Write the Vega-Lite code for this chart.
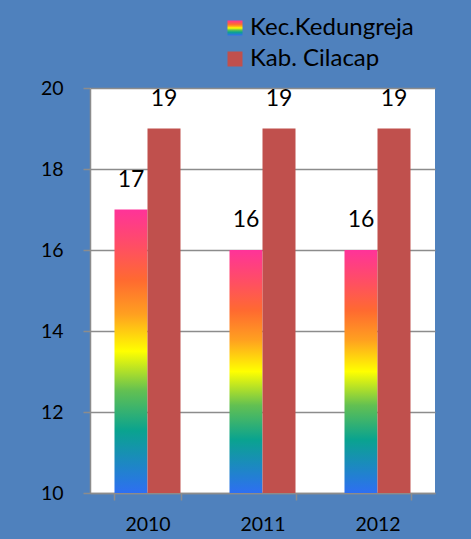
{
  "$schema": "https://vega.github.io/schema/vega-lite/v6.json",
  "width": 345,
  "height": 405,
  "autosize": {"type": "none"},
  "padding": {"left": 90, "top": 88, "right": 36, "bottom": 46},
  "background": "#4f81bd",
  "view": {"fill": "white", "stroke": null},
  "config": {
    "font": "Lato",
    "axis": {
      "labelFont": "Lato",
      "labelFontSize": 19.5,
      "labelColor": "black",
      "domainColor": "#8c8c8c",
      "domainWidth": 1.5,
      "tickColor": "#8c8c8c",
      "tickWidth": 1.5,
      "tickSize": 7,
      "gridColor": "#8c8c8c",
      "gridWidth": 1.5,
      "gridOpacity": 1,
      "title": null
    },
    "legend": {
      "title": null,
      "orient": "none",
      "symbolType": "square",
      "symbolSize": 225,
      "symbolStrokeWidth": 0,
      "labelFont": "Lato",
      "labelFontSize": 24,
      "labelColor": "black",
      "labelOffset": 3,
      "labelLimit": 300,
      "padding": 0
    }
  },
  "data": {
    "values": [
      {"year": "2010", "series": "Kec.Kedungreja", "value": 17},
      {"year": "2010", "series": "Kab. Cilacap", "value": 19},
      {"year": "2011", "series": "Kec.Kedungreja", "value": 16},
      {"year": "2011", "series": "Kab. Cilacap", "value": 19},
      {"year": "2012", "series": "Kec.Kedungreja", "value": 16},
      {"year": "2012", "series": "Kab. Cilacap", "value": 19}
    ]
  },
  "encoding": {
    "x": {
      "field": "year",
      "type": "nominal",
      "scale": {"paddingInner": 0.426, "paddingOuter": 0.213},
      "axis": {"labelAngle": 0, "tickBand": "extent", "labelPadding": 15, "grid": false}
    },
    "xOffset": {
      "field": "series",
      "type": "nominal",
      "scale": {"domain": ["Kec.Kedungreja", "Kab. Cilacap"], "paddingInner": 0, "paddingOuter": 0}
    },
    "y": {
      "field": "value",
      "type": "quantitative",
      "scale": {"domain": [10, 20], "nice": false, "zero": false},
      "axis": {"values": [10, 12, 14, 16, 18, 20], "labelPadding": 20, "grid": true}
    }
  },
  "layer": [
    {
      "transform": [{"filter": "datum.series === 'Kec.Kedungreja'"}],
      "mark": {
        "type": "bar",
        "clip": true,
        "fill": {
          "gradient": "linear",
          "x1": 0, "y1": 1, "x2": 0, "y2": 0,
          "stops": [
            {"offset": 0, "color": "#2e6ff2"},
            {"offset": 0.22, "color": "#0aa38f"},
            {"offset": 0.36, "color": "#62c052"},
            {"offset": 0.5, "color": "#ffff00"},
            {"offset": 0.63, "color": "#ffa020"},
            {"offset": 0.75, "color": "#ff6a30"},
            {"offset": 0.88, "color": "#ff4c68"},
            {"offset": 1, "color": "#ff3399"}
          ]
        }
      },
      "encoding": {
        "y2": {"datum": 10},
        "opacity": {
          "field": "series",
          "type": "nominal",
          "scale": {"type": "ordinal", "domain": ["Kec.Kedungreja"], "range": [1]},
          "legend": {"legendX": 133, "legendY": -72}
        }
      }
    },
    {
      "transform": [{"filter": "datum.series === 'Kab. Cilacap'"}],
      "mark": {"type": "bar", "clip": true},
      "encoding": {
        "y2": {"datum": 10},
        "color": {
          "field": "series",
          "type": "nominal",
          "scale": {"domain": ["Kab. Cilacap"], "range": ["#c0504d"]},
          "legend": {"legendX": 133, "legendY": -41}
        }
      }
    },
    {
      "mark": {"type": "text", "baseline": "bottom", "dy": -18, "fontSize": 23, "font": "Lato", "color": "black"},
      "encoding": {"text": {"field": "value", "type": "quantitative"}}
    }
  ]
}
